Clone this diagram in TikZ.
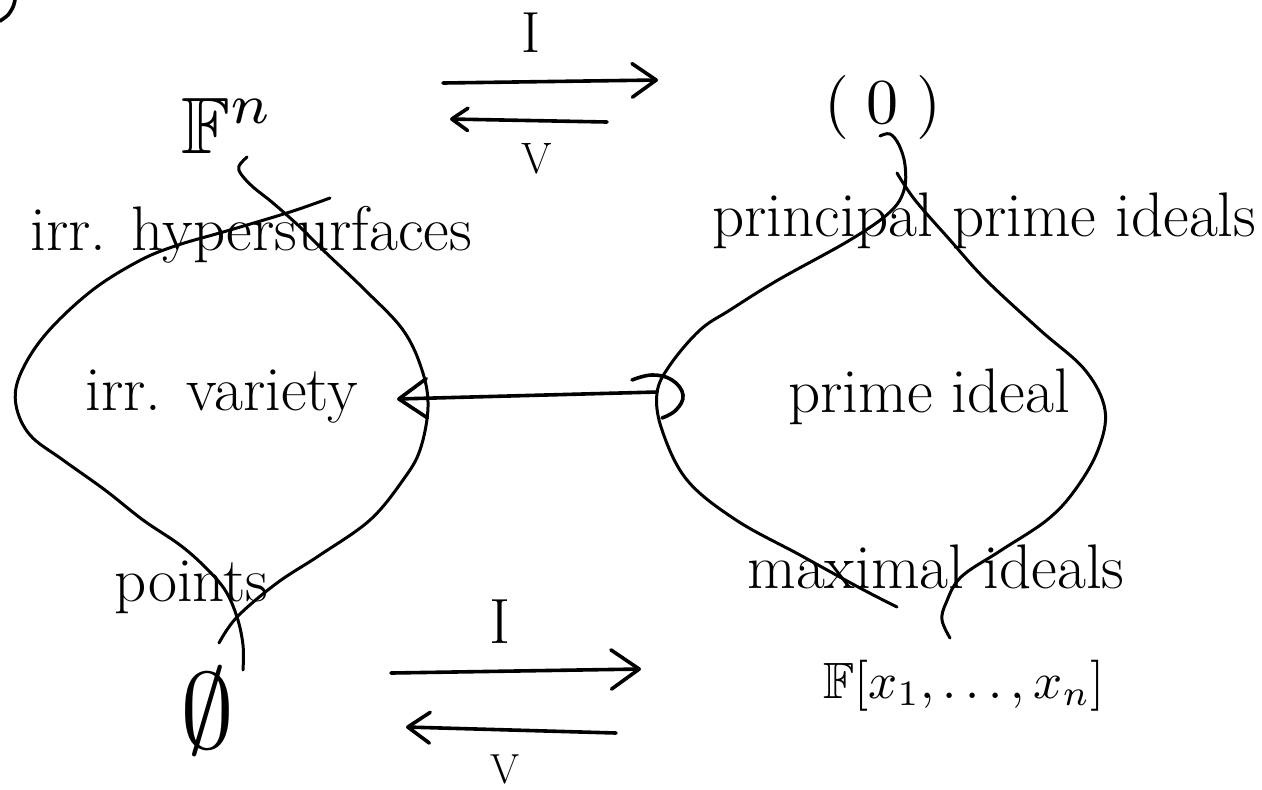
\documentclass[tikz,border=0pt]{standalone}
\usepackage{amssymb}
\usepackage{fontspec}
\usetikzlibrary{arrows.meta}
\begin{document}
\begin{tikzpicture}[x=0.5pt,y=-0.5pt, line cap=round, line join=round,
  hand/.style={font=\fontsize{31.5}{36}\selectfont, inner sep=0pt, anchor=base west},
  mth/.style={font=\fontsize{10}{12}\selectfont, inner sep=0pt},
  lens/.style={line width=1.5pt},
  arr/.style={line width=1.8pt},
  barb/.style={-{Straight Barb[round, length=#1pt, width=1.4*#1pt]}}]
\useasboundingbox (0,0) rectangle (1262,789);

% corner fragment
\draw[arr] plot[smooth] coordinates {(0,21) (8,15) (13,7) (15,0)};

% labels
\node[mth, anchor=base west, scale=4] (Fn) at (180,153) {$\mathbb{F}^n$};
\node[mth, scale=3.2] (zero) at (883,107) {$(\;0\;)$};
\node[hand] (hyp) at (30,250) {irr. hypersurfaces};
\node[hand] (ppi) at (712,236) {principal prime ideals};
\node[hand] (var) at (85,410) {irr. variety};
\node[hand] (pid) at (788,412) {prime ideal};
\node[hand] (pts) at (114,601) {points};
\node[hand] (mid) at (747,588) {maximal ideals};
\node[mth, anchor=base west, scale=2.55] (ring) at (822,698) {$\mathbb{F}[x_1,\dots,x_n]$};
\node[mth, scale=5.4] (empty) at (207,711) {$\emptyset$};
\node[inner sep=0pt, anchor=base, font=\fontsize{29}{34}\selectfont] (I1) at (531,52) {I};
\node[inner sep=0pt, anchor=base, font=\fontsize{22}{26}\selectfont] (V1) at (537,173) {V};
\node[inner sep=0pt, anchor=base, font=\fontsize{32}{36}\selectfont] (I2) at (500,643) {I};
\node[inner sep=0pt, anchor=base, font=\fontsize{21}{26}\selectfont] (V2) at (505,783) {V};

% left lens
\draw[lens] plot[smooth, tension=0.6] coordinates {(247,157) (239,166) (241,174) (253,187) (273,203) (300,227) (323,250) (365,290) (403,330) (422,370) (428,407) (420,450) (403,480) (370,520) (320,555) (277,583) (237,617) (219,643)};
\draw[lens] plot[smooth, tension=0.6] coordinates {(330,198) (290,212) (230,230) (175,246) (137,262) (90,292) (45,335) (20,375) (16,405) (30,435) (63,460) (105,490) (143,520) (180,545) (205,567) (225,590) (237,617) (243,645) (243,670)};

% right lens
\draw[lens] plot[smooth, tension=0.6] coordinates {(880,136) (890,134) (899,145) (905,165) (904,190) (890,212) (850,240) (778,280) (730,310) (700,330) (670,365) (657,393) (662,430) (687,480) (736,520) (800,555) (860,588) (897,607)};
\draw[lens] plot[smooth, tension=0.6] coordinates {(897,173) (915,200) (950,240) (986,280) (1040,330) (1085,370) (1105,410) (1098,450) (1075,490) (1047,520) (1000,551) (961,577) (946,603) (942,620) (950,638)};

% arrows
\coordinate (t1s) at (443,83);  \coordinate (t1e) at (658,80);
\coordinate (t2s) at (607,122); \coordinate (t2e) at (450,119);
\coordinate (b1s) at (391,673); \coordinate (b1e) at (641,669);
\coordinate (b2s) at (616,733); \coordinate (b2e) at (406,727);
\coordinate (ms) at (657,392);  \coordinate (me) at (397,399);

\draw[arr, barb=12] (t1s) -- (t1e);
\draw[arr, barb=8] (t2s) -- (t2e);
\draw[arr, barb=14] (b1s) -- (b1e);
\draw[arr, barb=11] (b2s) -- (b2e);
\draw[arr, barb=14] (ms) -- (me);
\draw[arr] plot[smooth, tension=0.7] coordinates {(632,380) (652,375) (672,380) (683,395) (676,410) (662,418)};
\end{tikzpicture}
\end{document}
